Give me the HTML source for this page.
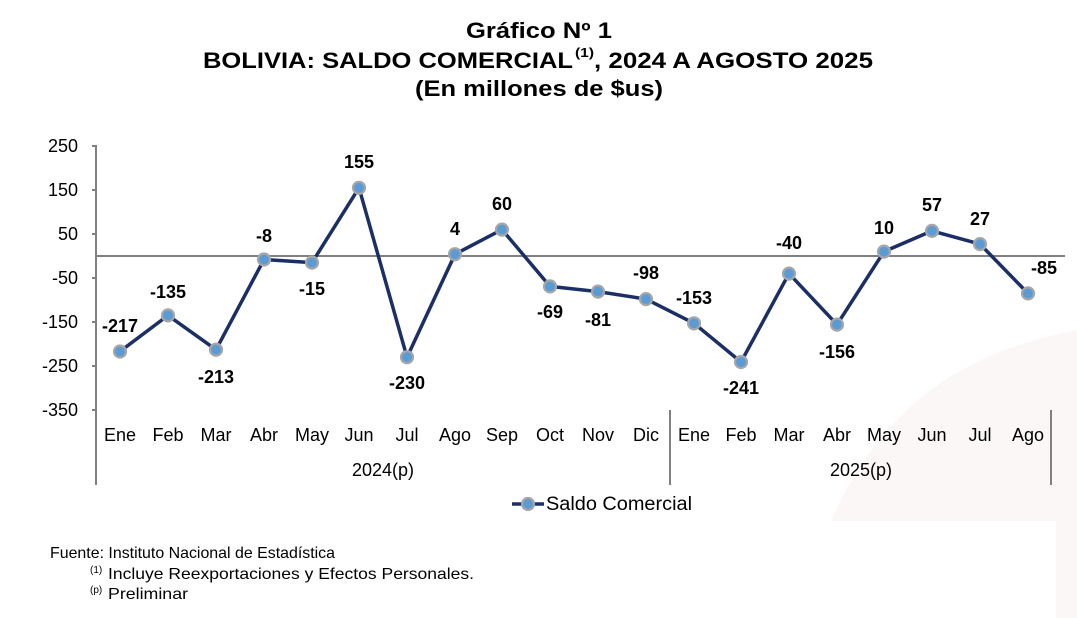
<!DOCTYPE html>
<html><head><meta charset="utf-8"><style>
body{margin:0;background:#fff}
svg{display:block;font-family:"Liberation Sans",Arial,sans-serif}
</style></head><body>
<svg width="1077" height="618" viewBox="0 0 1077 618" xmlns="http://www.w3.org/2000/svg">
<path d="M800,618 C840,450 920,360 1077,330 L1077,618 Z" fill="#fbf7f7"/>
<rect x="780" y="521" width="276" height="97" fill="#fff"/>
<g font-weight="bold" fill="#000" text-anchor="middle">
<text x="539" y="38" font-size="22" textLength="146" lengthAdjust="spacingAndGlyphs">Gráfico Nº 1</text>
<text x="203" y="68" font-size="22" text-anchor="start" textLength="370" lengthAdjust="spacingAndGlyphs">BOLIVIA: SALDO COMERCIAL</text>
<text x="575" y="57" font-size="13" text-anchor="start" textLength="19" lengthAdjust="spacingAndGlyphs">(1)</text>
<text x="594" y="68" font-size="22" text-anchor="start" textLength="279" lengthAdjust="spacingAndGlyphs">, 2024 A AGOSTO 2025</text>
<text x="539" y="96" font-size="22" textLength="248" lengthAdjust="spacingAndGlyphs">(En millones de $us)</text>
</g>
<g font-size="18" fill="#000" text-anchor="end">
<text x="78" y="152">250</text><text x="78" y="196">150</text><text x="78" y="240">50</text>
<text x="78" y="284">-50</text><text x="78" y="328">-150</text><text x="78" y="372">-250</text><text x="78" y="416">-350</text>
</g>
<g stroke="#808080" stroke-width="2" fill="none">
<line x1="96" y1="145" x2="96" y2="485"/>
<line x1="92" y1="146" x2="96" y2="146"/><line x1="92" y1="190" x2="96" y2="190"/><line x1="92" y1="234" x2="96" y2="234"/>
<line x1="92" y1="278" x2="96" y2="278"/><line x1="92" y1="322" x2="96" y2="322"/><line x1="92" y1="366" x2="96" y2="366"/><line x1="92" y1="410" x2="96" y2="410"/>
<line x1="670" y1="410" x2="670" y2="485"/>
<line x1="1051" y1="410" x2="1051" y2="485"/>
<line x1="96" y1="256" x2="1065" y2="256"/>
</g>
<g font-size="18" fill="#000" text-anchor="middle">
<text x="120" y="441">Ene</text><text x="168" y="441">Feb</text><text x="216" y="441">Mar</text><text x="264" y="441">Abr</text>
<text x="312" y="441">May</text><text x="359" y="441">Jun</text><text x="407" y="441">Jul</text><text x="455" y="441">Ago</text>
<text x="502" y="441">Sep</text><text x="550" y="441">Oct</text><text x="598" y="441">Nov</text><text x="646" y="441">Dic</text>
<text x="694" y="441">Ene</text><text x="741" y="441">Feb</text><text x="789" y="441">Mar</text><text x="837" y="441">Abr</text>
<text x="884" y="441">May</text><text x="932" y="441">Jun</text><text x="980" y="441">Jul</text><text x="1028" y="441">Ago</text>
<text x="383" y="476">2024(p)</text><text x="861" y="476">2025(p)</text>
</g>
<polyline fill="none" stroke="#1b2f66" stroke-width="3.5" stroke-linejoin="round" points="120,351.5 168,315.4 216,349.7 264,259.5 312,262.6 359,187.8 407,357.2 455,254.2 502,229.6 550,286.4 598,291.6 646,299.1 694,323.3 741,362 789,273.6 837,324.6 884,251.6 932,230.9 980,244.1 1028,293.4"/>
<g fill="#5b9bd5" stroke="#a6a6a6" stroke-width="2.2">
<circle cx="120" cy="351.5" r="6"/><circle cx="168" cy="315.4" r="6"/><circle cx="216" cy="349.7" r="6"/><circle cx="264" cy="259.5" r="6"/>
<circle cx="312" cy="262.6" r="6"/><circle cx="359" cy="187.8" r="6"/><circle cx="407" cy="357.2" r="6"/><circle cx="455" cy="254.2" r="6"/>
<circle cx="502" cy="229.6" r="6"/><circle cx="550" cy="286.4" r="6"/><circle cx="598" cy="291.6" r="6"/><circle cx="646" cy="299.1" r="6"/>
<circle cx="694" cy="323.3" r="6"/><circle cx="741" cy="362" r="6"/><circle cx="789" cy="273.6" r="6"/><circle cx="837" cy="324.6" r="6"/>
<circle cx="884" cy="251.6" r="6"/><circle cx="932" cy="230.9" r="6"/><circle cx="980" cy="244.1" r="6"/><circle cx="1028" cy="293.4" r="6"/>
</g>
<g font-size="18" font-weight="bold" fill="#000" text-anchor="middle">
<text x="120" y="332">-217</text><text x="168" y="298">-135</text><text x="216" y="383">-213</text><text x="264" y="242">-8</text>
<text x="312" y="295">-15</text><text x="359" y="168">155</text><text x="407" y="389">-230</text><text x="455" y="235">4</text>
<text x="502" y="210">60</text><text x="550" y="318">-69</text><text x="598" y="326">-81</text><text x="646" y="279">-98</text>
<text x="694" y="304">-153</text><text x="741" y="394">-241</text><text x="789" y="249">-40</text><text x="837" y="358">-156</text>
<text x="884" y="234">10</text><text x="932" y="211">57</text><text x="980" y="225">27</text><text x="1044" y="274">-85</text>
</g>
<line x1="512" y1="504" x2="544" y2="504" stroke="#1b2f66" stroke-width="3.5"/>
<circle cx="528" cy="504" r="6" fill="#5b9bd5" stroke="#a6a6a6" stroke-width="2.2"/>
<text x="546" y="510" font-size="19" fill="#000" textLength="146" lengthAdjust="spacingAndGlyphs">Saldo Comercial</text>
<text x="50" y="558" font-size="16" fill="#000" textLength="285" lengthAdjust="spacingAndGlyphs">Fuente: Instituto Nacional de Estadística</text>
<text x="90" y="573" font-size="10" fill="#000">(1)</text>
<text x="108" y="579" font-size="16" fill="#000" textLength="366" lengthAdjust="spacingAndGlyphs">Incluye Reexportaciones y Efectos Personales.</text>
<text x="90" y="593" font-size="10" fill="#000">(p)</text>
<text x="108" y="599" font-size="16" fill="#000" textLength="80" lengthAdjust="spacingAndGlyphs">Preliminar</text>
</svg>
</body></html>
